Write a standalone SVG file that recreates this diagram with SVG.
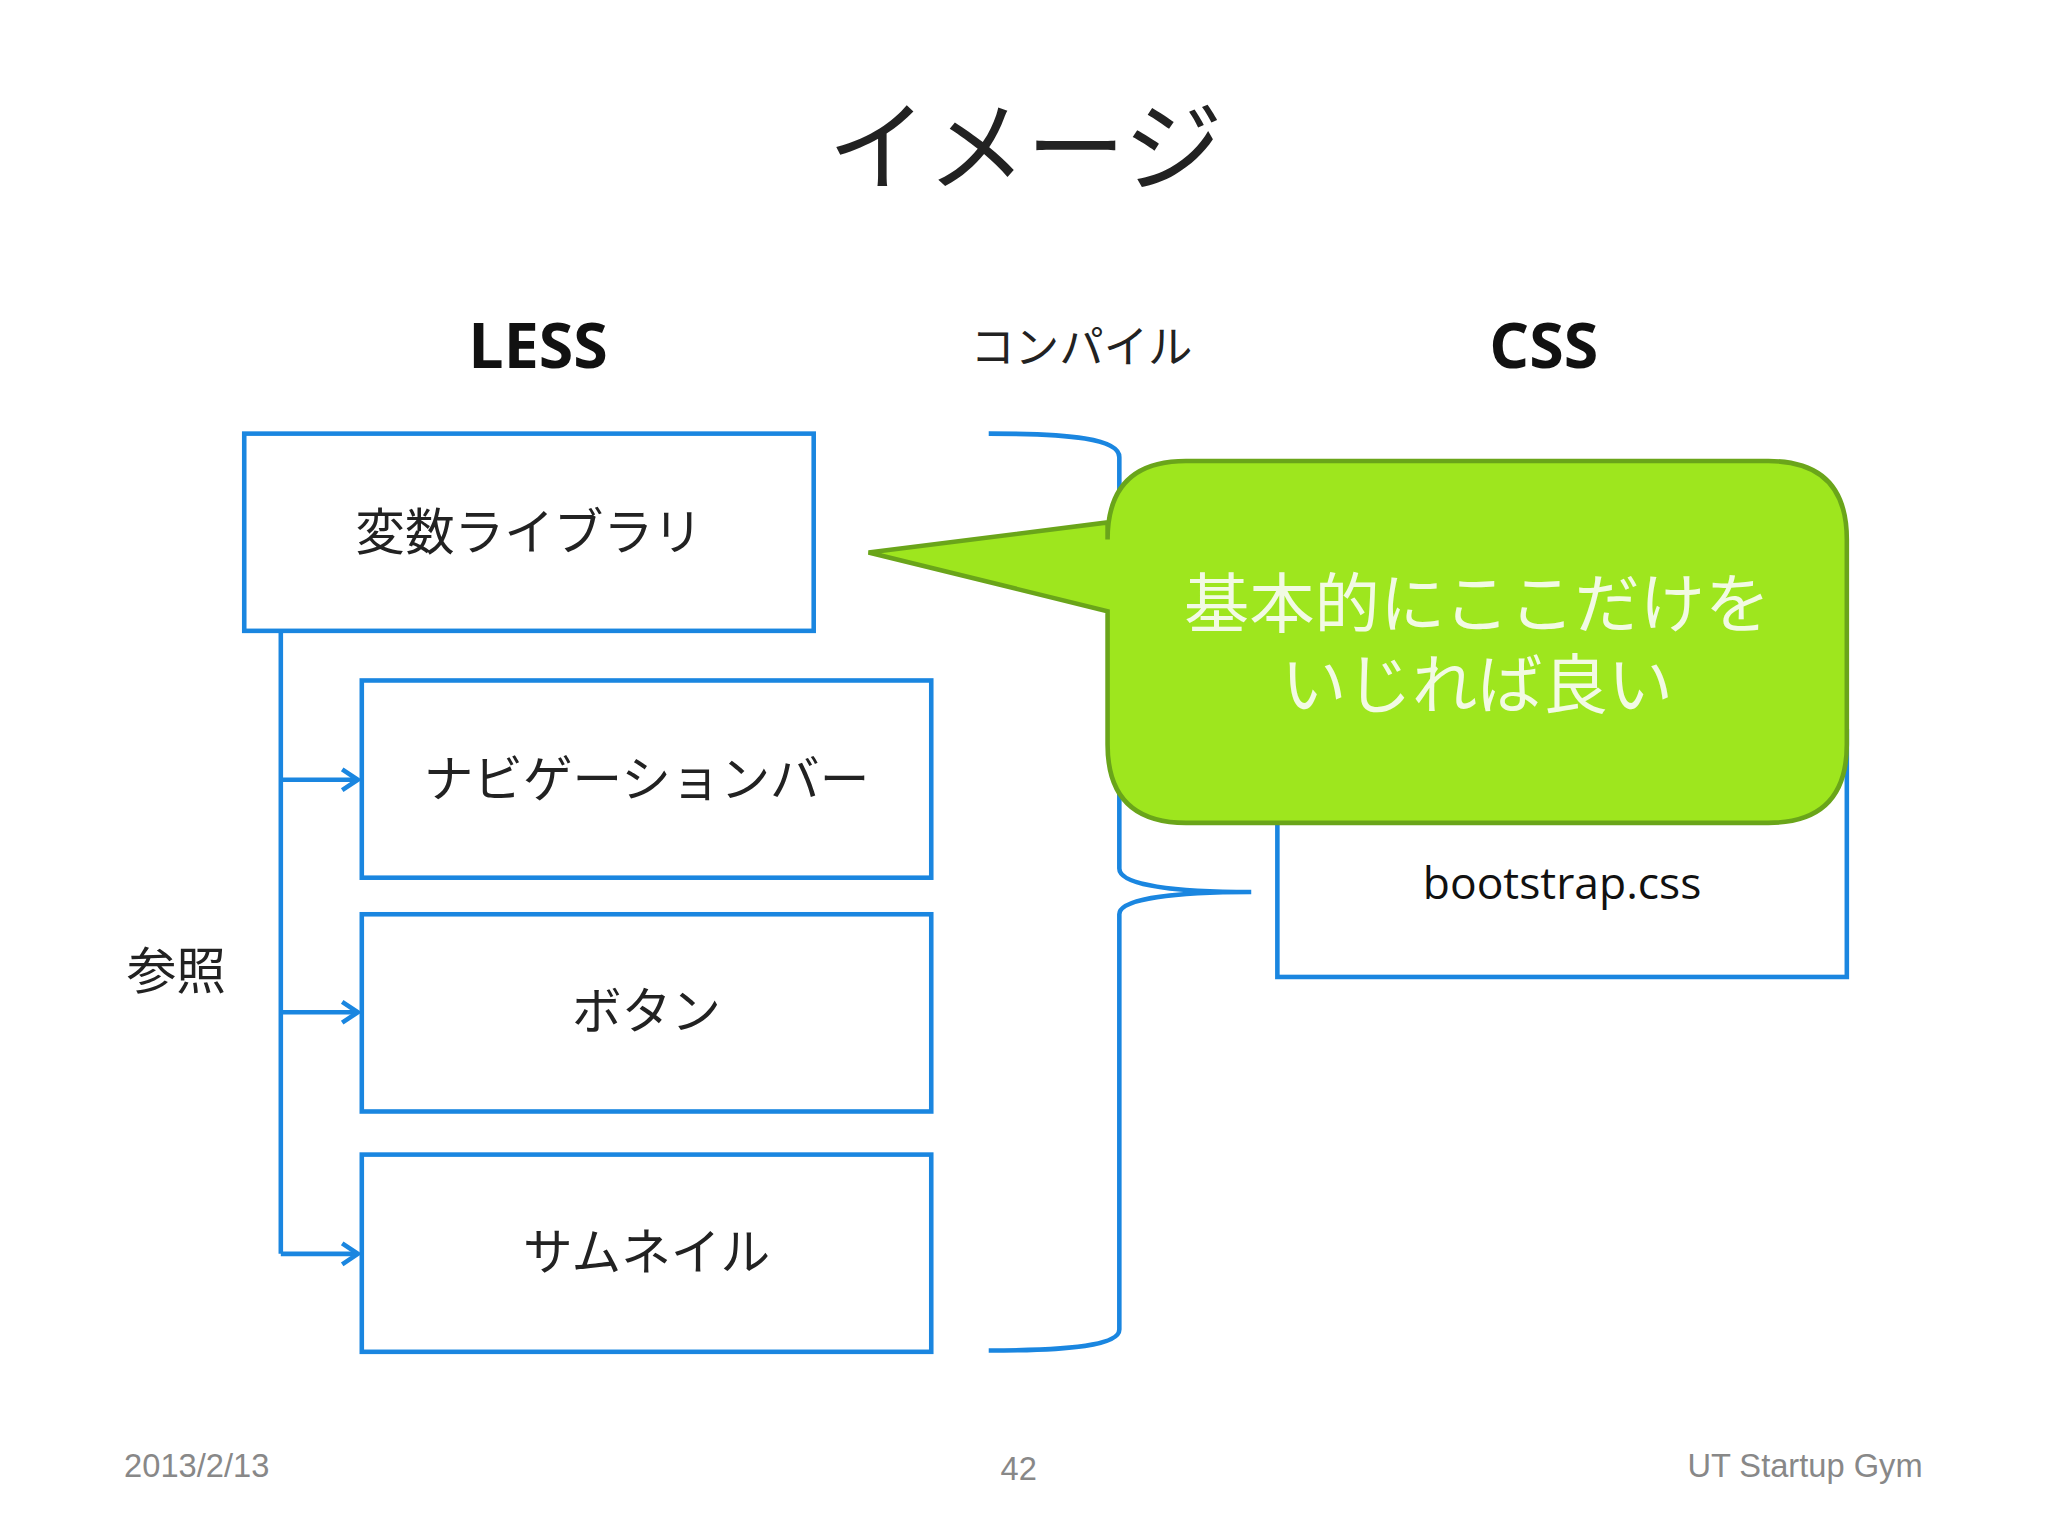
<svg xmlns="http://www.w3.org/2000/svg" width="2048" height="1536" viewBox="0 0 2048 1536">
<defs>
<style>
.box{fill:#fff;stroke:#1a86e0;stroke-width:3.5}
.jp{font-family:"Noto Sans CJK JP","Noto Sans",sans-serif;fill:#222;text-anchor:middle}
.hd{font-family:"Open Sans","DejaVu Sans",sans-serif;font-weight:bold;fill:#111;text-anchor:middle;font-size:48px}
.ft{font-family:"Liberation Sans",Arial,sans-serif;fill:#888;font-size:25px}
.ln{fill:none;stroke:#1a86e0;stroke-width:3.5}
</style>
<marker id="ah" viewBox="0 0 10 10" refX="9" refY="5" markerWidth="6" markerHeight="6" orient="auto" markerUnits="userSpaceOnUse"><path d="M1,1 L9,5 L1,9" fill="none" stroke="#1a86e0" stroke-width="2"/></marker>
</defs>
<rect width="2048" height="1536" fill="#fff"/>
<g transform="scale(1.3061)">
<text class="jp" x="785" y="140" font-size="76">イメージ</text>
<text class="hd" x="412" y="282">LESS</text>
<text class="jp" x="828" y="278" font-size="34">コンパイル</text>
<text class="hd" x="1182" y="282">CSS</text>
<g id="connectors">
<path class="ln" d="M215,483 V960"/>
<path class="ln" d="M215,597 H273" marker-end="url(#ah)" stroke-width="3.5" />
<path class="ln" d="M215,775 H273"/>
<path class="ln" d="M215,960 H273"/>
<path d="M262,589 L274,597 L262,605 M262,767 L274,775 L262,783 M262,952 L274,960 L262,968" fill="none" stroke="#1a86e0" stroke-width="3.5"/>
<path class="ln" d="M757,332 C820,332 857,336 857,350 V665 C857,678 900,683 958,683 C900,683 857,688 857,700 V1018 C857,1030 820,1034 757,1034"/>
</g>
<g id="lib"><rect class="box" x="187" y="332" width="436" height="151"/><text class="jp" x="405" y="421" font-size="38">変数ライブラリ</text></g>
<g id="nav"><rect class="box" x="277" y="521" width="436" height="151"/><text class="jp" x="495" y="610" font-size="38">ナビゲーションバー</text></g>
<g id="btn"><rect class="box" x="277" y="700" width="436" height="151"/><text class="jp" x="495" y="788" font-size="38">ボタン</text></g>
<g id="thumb"><rect class="box" x="277" y="884" width="436" height="151"/><text class="jp" x="495" y="972" font-size="38">サムネイル</text></g>
<g id="ref"><text class="jp" x="135" y="757" font-size="38">参照</text></g>
<g id="css"><rect class="box" x="978" y="560" width="436" height="188"/><text x="1196" y="688" font-family="Open Sans,sans-serif" font-size="34" fill="#111" text-anchor="middle">bootstrap.css</text></g>
<g id="callout">
<path d="M908,353 H1354 Q1414,353 1414,413 V570 Q1414,630 1354,630 H908 Q848,630 848,570 V468 L665,423 L848,400 V413 Q848,353 908,353 Z" fill="#9ee61e" stroke="#6aa51a" stroke-width="3.5"/>
<text class="jp" x="1131" y="480" font-size="50" fill="#f2fae4" style="fill:#f2fae4">基本的にここだけを</text>
<text class="jp" x="1131" y="542" font-size="50" style="fill:#f2fae4">いじれば良い</text>
</g>
<text class="ft" x="95" y="1131">2013/2/13</text>
<text class="ft" x="780" y="1133" text-anchor="middle">42</text>
<text class="ft" x="1472" y="1131" text-anchor="end" fill="#666">UT Startup Gym</text>
</g>
</svg>
